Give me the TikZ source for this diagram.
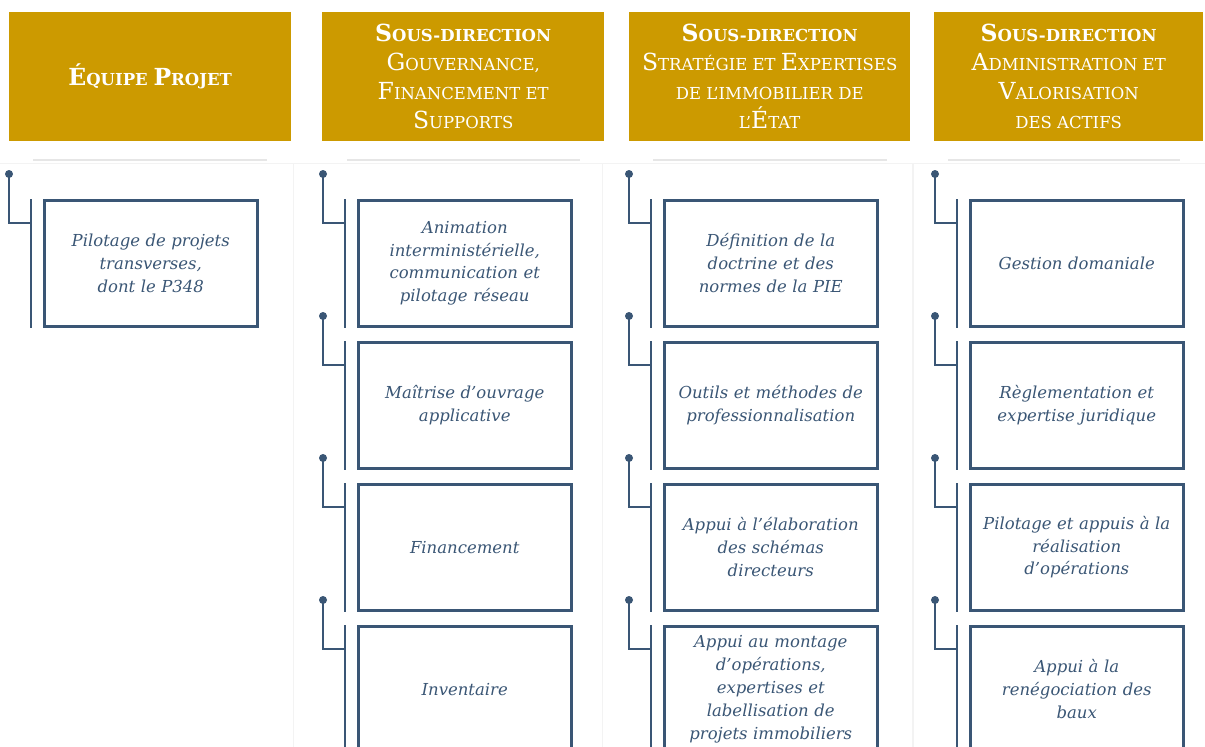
\documentclass[tikz,border=0pt]{standalone}
\usepackage{fontspec}
\usetikzlibrary{calc}
\newfontfamily\itemfont{DejaVu Serif}
\newfontfamily\headfont{DejaVu Serif}
\definecolor{gold}{HTML}{CC9A00}
\definecolor{ink}{HTML}{3A5675}
\definecolor{rule}{HTML}{E6E6E6}
\definecolor{panelline}{HTML}{F3F3F3}
\newcommand\Bg[1]{{\fontsize{23.5}{29}\selectfont #1}}
\tikzset{
  header/.style={fill=gold, draw=none, text=white, align=center, anchor=north west,
    minimum height=129pt, inner sep=0pt, font=\headfont\fontsize{16.5}{29}\selectfont},
  itembox/.style={draw=ink, line width=2.5pt, text=ink, align=center, anchor=north west,
    minimum width=213pt, minimum height=126pt, inner sep=0pt, text width=205pt,
    font=\itemfont\itshape\fontsize{16.5}{22.8}\selectfont},
  conn/.style={draw=ink, line width=2.5pt},
  panel/.style={fill=white, draw=panelline, line width=1pt},
  headrule/.style={draw=rule, line width=2pt},
}
\newcommand\itm[4]{% name, x, y, text
  \node[itembox] (#1) at (#2,#3) {#4};
  \coordinate (#1-dot) at ($(#1.north west)+(-34,-25)$);
  \coordinate (#1-bt) at ($(#1.north west)+(-12,0)$);
  \coordinate (#1-bb) at ($(#1.south west)+(-12,0)$);
  \coordinate (#1-j) at ($(#1.north west)+(-12,24)$);
  \draw[conn] (#1-bt) -- (#1-bb);
  \draw[conn] (#1-dot) |- (#1-j);
  \fill[ink] (#1-dot) circle (4);
}
\begin{document}
\begin{tikzpicture}[x=1pt,y=-1pt]
\useasboundingbox (0,0) rectangle (1205,747);
\fill[white] (0,0) rectangle (1205,747);
% panels
\draw[panel] (-16,163) rectangle (293,760);
\draw[panel] (293,163) rectangle (602,760);
\draw[panel] (602,163) rectangle (912,760);
\draw[panel] (913,163) rectangle (1222,760);
% headers
\node[header, minimum width=282pt] (h1) at (9,12) {\bfseries\Bg{É}QUIPE \Bg{P}ROJET};
\node[header, minimum width=282pt] (h2) at (322,12) {{\bfseries\Bg{S}OUS-DIRECTION}\\
  \Bg{G}OUVERNANCE,\\ \Bg{F}INANCEMENT ET\\ \Bg{S}UPPORTS};
\node[header, minimum width=281pt] (h3) at (629,12) {{\bfseries\Bg{S}OUS-DIRECTION}\\
  \Bg{S}TRATÉGIE ET \Bg{E}XPERTISES\\ DE L’IMMOBILIER DE\\ L’\Bg{É}TAT};
\node[header, minimum width=269pt] (h4) at (934,12) {{\bfseries\Bg{S}OUS-DIRECTION}\\
  \Bg{A}DMINISTRATION ET\\ \Bg{V}ALORISATION\\ DES ACTIFS};
% rules
\draw[headrule] (33,160) -- (267,160);
\draw[headrule] (347,160) -- (580,160);
\draw[headrule] (653,160) -- (887,160);
\draw[headrule] (948,160) -- (1180,160);
% column 1
\itm{a1}{43}{199}{Pilotage de projets\\ transverses,\\ dont le P348}
% column 2
\itm{b1}{357}{199}{Animation\\ interministérielle,\\ communication et\\ pilotage réseau}
\itm{b2}{357}{341}{Maîtrise d’ouvrage\\ applicative}
\itm{b3}{357}{483}{Financement}
\itm{b4}{357}{625}{Inventaire}
% column 3
\itm{c1}{663}{199}{Définition de la\\ doctrine et des\\ normes de la PIE}
\itm{c2}{663}{341}{Outils et méthodes de\\ professionnalisation}
\itm{c3}{663}{483}{Appui à l’élaboration\\ des schémas\\ directeurs}
\itm{c4}{663}{625}{Appui au montage\\ d’opérations,\\ expertises et\\ labellisation de\\ projets immobiliers}
% column 4
\itm{d1}{969}{199}{Gestion domaniale}
\itm{d2}{969}{341}{Règlementation et\\ expertise juridique}
\itm{d3}{969}{483}{Pilotage et appuis à la\\ réalisation\\ d’opérations}
\itm{d4}{969}{625}{Appui à la\\ renégociation des\\ baux}
\end{tikzpicture}
\end{document}
